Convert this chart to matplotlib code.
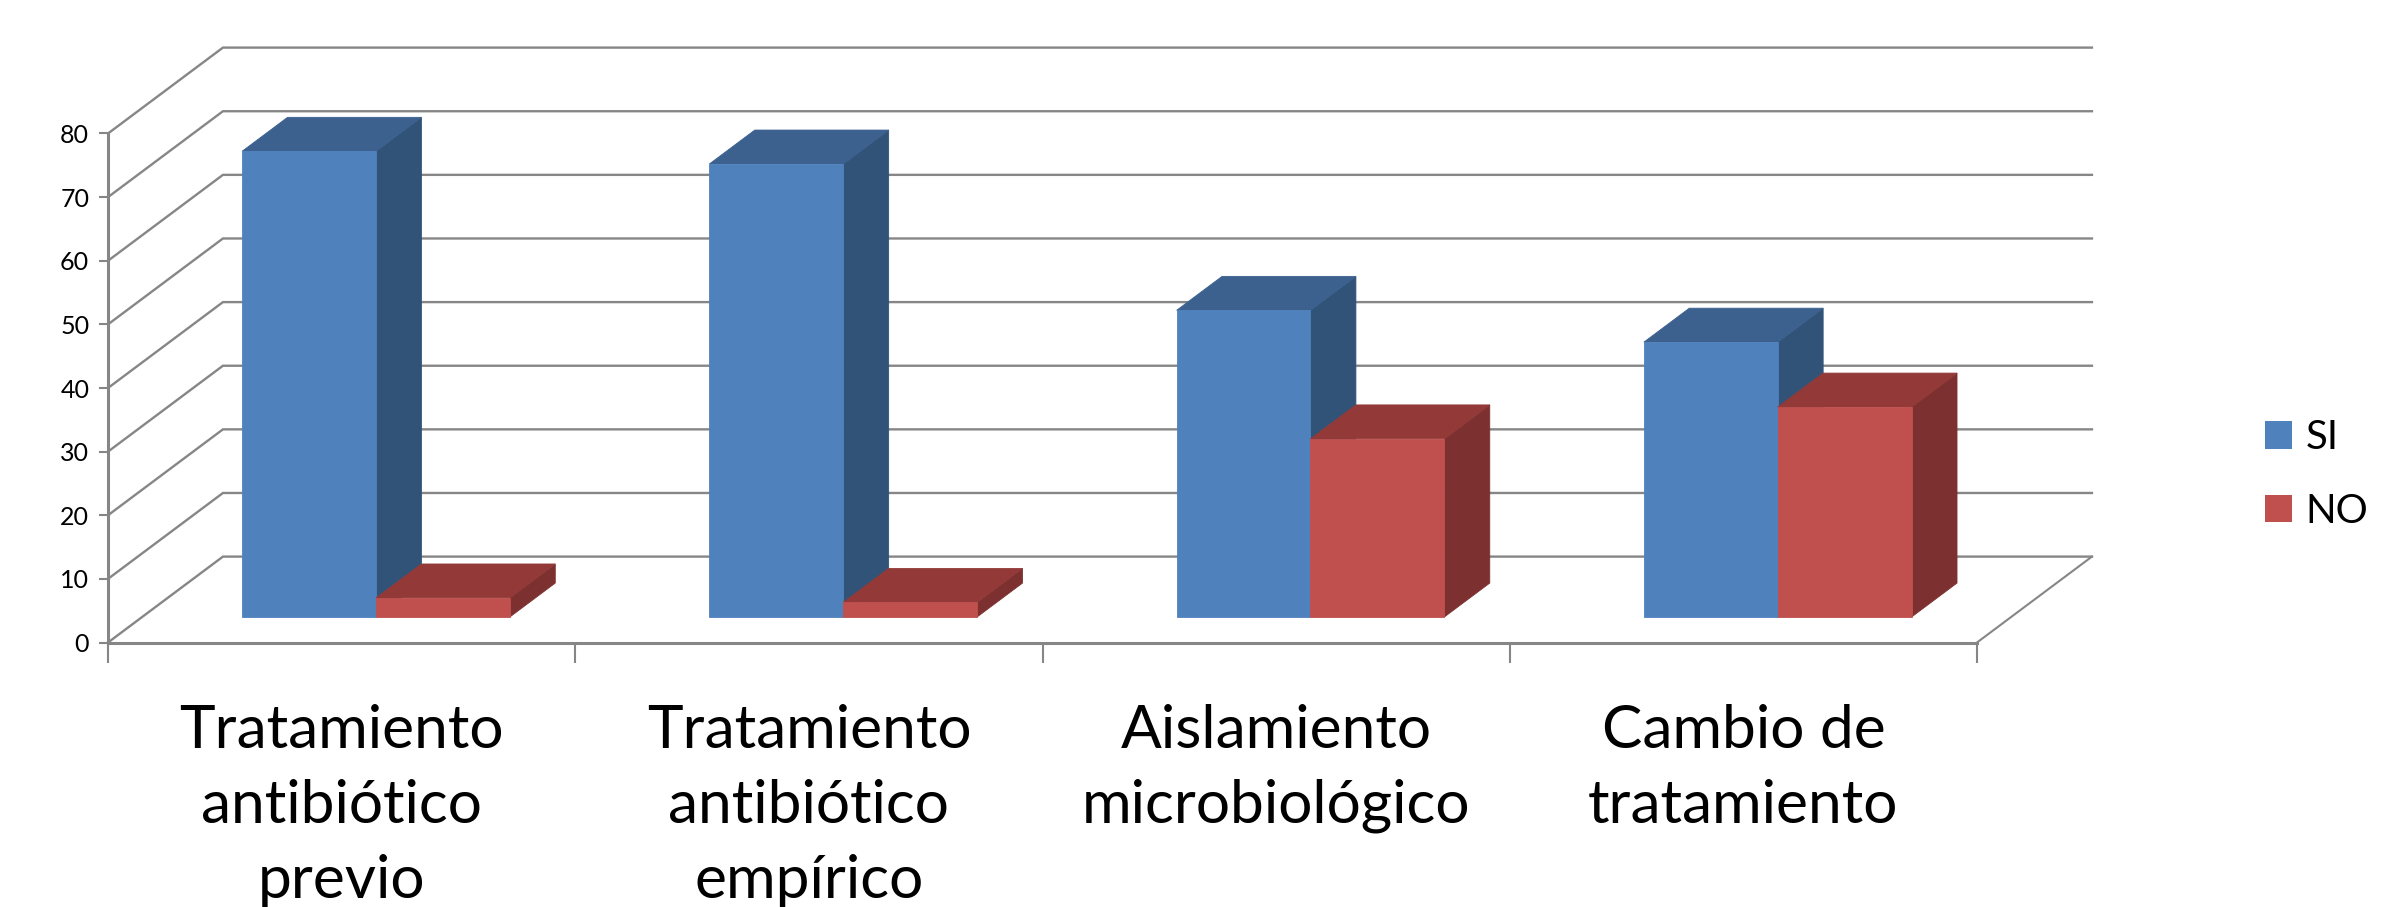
import matplotlib
matplotlib.use("Agg")
import matplotlib.pyplot as plt
from matplotlib.patches import Polygon, Patch

W, H = 2397, 907

categories = ["Tratamiento\nantibiótico\nprevio",
              "Tratamiento\nantibiótico\nempírico",
              "Aislamiento\nmicrobiológico",
              "Cambio de\ntratamiento"]
si_values = [73.2, 71.2, 48.2, 43.2]
no_values = [3.0, 2.3, 28.0, 33.0]
y_ticks = [0, 10, 20, 30, 40, 50, 60, 70, 80]

BLUE = ("#4F81BD", "#3C618F", "#325378")
RED = ("#C0504D", "#933A39", "#7C3130")
GRID = "#868686"

# oblique projection: full floor depth expressed in data units
DEPTH_X = 0.246
DEPTH_Y = 13.5
BAR_W = 0.2865
BAR_START = 0.214
BAR_NEAR = 0.297
BAR_FAR = 0.692

plt.rcParams["font.family"] = ["Lato", "DejaVu Sans"]

fig = plt.figure(figsize=(W / 100, H / 100), dpi=100)
ax = fig.add_axes([108 / W, (H - 642.5) / H, 1869 / W, 509 / H])
ax.set_xlim(0, 4)
ax.set_ylim(0, 80)


def proj(x, y, d):
    return (x + d * DEPTH_X, y + d * DEPTH_Y)


def box(x0, value, colors):
    x1 = x0 + BAR_W
    front = [proj(x0, 0, BAR_NEAR), proj(x1, 0, BAR_NEAR),
             proj(x1, value, BAR_NEAR), proj(x0, value, BAR_NEAR)]
    top = [proj(x0, value, BAR_NEAR), proj(x1, value, BAR_NEAR),
           proj(x1, value, BAR_FAR), proj(x0, value, BAR_FAR)]
    side = [proj(x1, 0, BAR_NEAR), proj(x1, 0, BAR_FAR),
            proj(x1, value, BAR_FAR), proj(x1, value, BAR_NEAR)]
    for pts, c in ((side, colors[2]), (top, colors[1]), (front, colors[0])):
        ax.add_patch(Polygon(pts, closed=True, facecolor=c, edgecolor=c,
                             linewidth=0.6, clip_on=False, zorder=3))


# back wall gridlines and the diagonals on the side wall
for v in y_ticks:
    ax.plot([0, DEPTH_X, 4 + DEPTH_X], [v, v + DEPTH_Y, v + DEPTH_Y],
            color=GRID, lw=1.7, clip_on=False, zorder=1,
            solid_joinstyle="miter")
# right edge of the floor
ax.plot([4, 4 + DEPTH_X], [0, DEPTH_Y], color=GRID, lw=1.5, clip_on=False, zorder=1)

for i in range(len(categories)):
    box(i + BAR_START, si_values[i], BLUE)
    box(i + BAR_START + BAR_W, no_values[i], RED)

for s in ("top", "right"):
    ax.spines[s].set_visible(False)
for s in ("left", "bottom"):
    ax.spines[s].set_color(GRID)
    ax.spines[s].set_linewidth(2.2)

ax.set_yticks(y_ticks)
ax.tick_params(axis="y", length=6.5, width=1.5, color=GRID, labelsize=18, pad=7)
ax.set_xticks(range(len(categories) + 1))
ax.tick_params(axis="x", which="major", length=14.5, width=1.5, color=GRID, labelbottom=False)
ax.set_xticks([i + 0.5 for i in range(len(categories))], minor=True)
ax.set_xticklabels(categories, minor=True, fontsize=43.5, linespacing=1.48,
                   color="#000000", va="top")
ax.tick_params(axis="x", which="minor", length=0, pad=44)

handles = [Patch(facecolor=BLUE[0], label="SI"), Patch(facecolor=RED[0], label="NO")]
fig.legend(handles=handles, loc="center left", bbox_to_anchor=(2253 / W, 1 - 474.5 / H),
           frameon=False, fontsize=29, handlelength=0.68, handleheight=0.68,
           handletextpad=0.32, labelspacing=0.9, borderpad=0.3, borderaxespad=0)

fig.savefig("out.png", dpi=100)
